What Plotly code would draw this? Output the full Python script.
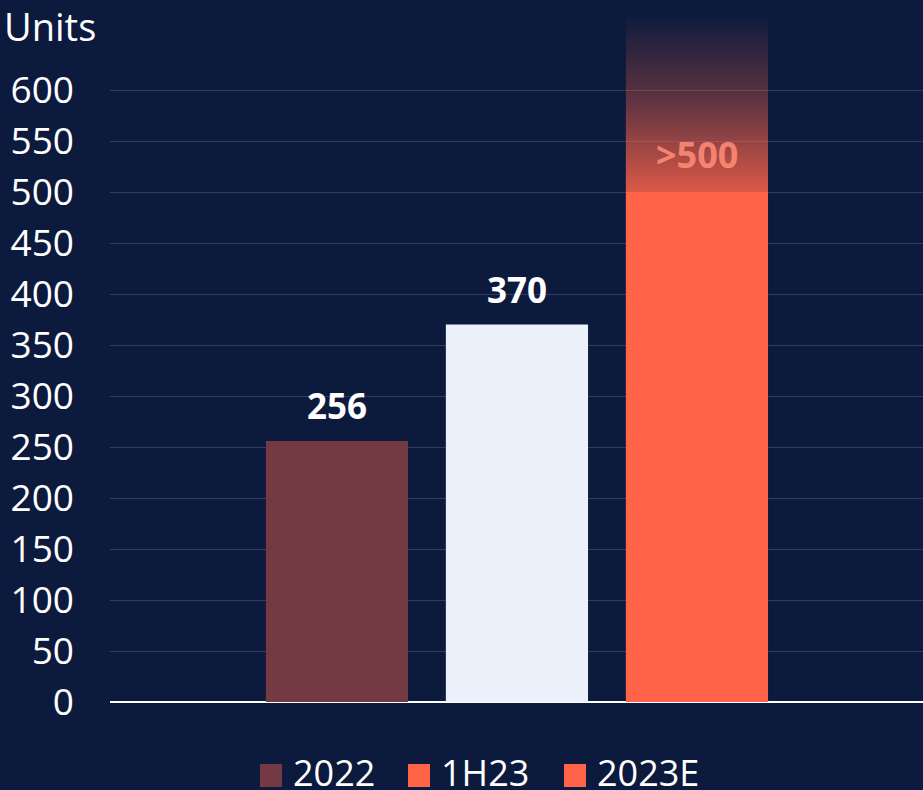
import plotly.graph_objects as go

# ---- data ----
categories = ["2022", "1H23", "2023E"]
values = [256, 370, 500]
labels = ["256", "370", ">500"]
fade_top = 675  # upper end of the faded "more than" part of 2023E
legend_colors = ["#733A44", "#FF6449", "#FF6449"]
bar_colors = ["#733A44", "#ECF0FA", "#FF6449"]
y_ticks = [0, 50, 100, 150, 200, 250, 300, 350, 400, 450, 500, 550, 600]

BG = "#0C1A3D"
W, H = 923, 790
ML, MR, MT, MB = 110, 0, 14, 88
FONT = "Open Sans"
BAR_W = 0.79

xs = list(range(len(categories)))

fig = go.Figure()
fig.add_trace(go.Bar(
    x=xs, y=values, width=BAR_W, marker=dict(color=bar_colors, line=dict(width=0)),
    showlegend=False, hoverinfo="skip",
))

# faded extension of the last bar
i = len(categories) - 1
x0, x1 = xs[i] - BAR_W / 2, xs[i] + BAR_W / 2
fig.add_trace(go.Scatter(
    x=[x0, x1, x1, x0, x0], y=[values[i], values[i], fade_top, fade_top, values[i]],
    mode="lines", line=dict(width=0), fill="toself",
    fillgradient=dict(type="vertical", start=values[i], stop=fade_top,
                      colorscale=[[0, "rgba(255,100,73,0.85)"], [0.5, "rgba(255,100,73,0.35)"],
                                  [1, "rgba(255,100,73,0.0)"]]),
    showlegend=False, hoverinfo="skip",
))

# value labels
for k, (x, v, t) in enumerate(zip(xs, values, labels)):
    if k == i:
        fig.add_annotation(x=x, y=v, text=t, showarrow=False, yanchor="bottom", yshift=11,
                           font=dict(family=FONT, size=36, color="rgba(255,140,118,0.9)", weight="bold"))
    else:
        fig.add_annotation(x=x, y=v, text=t, showarrow=False, yanchor="bottom", yshift=10,
                           font=dict(family=FONT, size=35, color="white", weight="bold"))

# axis title
fig.add_annotation(xref="paper", yref="paper", x=-(ML - 2) / (W - ML - MR), y=1 + (MT + 2) / (H - MT - MB),
                   xanchor="left", yanchor="top", text="Units", showarrow=False,
                   font=dict(family=FONT, size=38, color="white"))

# manual legend (pixel layout -> paper coords)
pw, ph = W - ML - MR, H - MT - MB
def px(x):
    return (x - ML) / pw
def py(y):
    return (H - MB - y) / ph

leg_x = [260, 408, 564]
for lx, name, col in zip(leg_x, categories, legend_colors):
    fig.add_shape(type="rect", xref="paper", yref="paper", x0=px(lx), x1=px(lx + 22),
                  y0=py(787), y1=py(764), fillcolor=col, line=dict(width=0))
    fig.add_annotation(xref="paper", yref="paper", x=px(lx + 31), y=py(772), xanchor="left",
                       yanchor="middle", text=name, showarrow=False,
                       font=dict(family=FONT, size=36, color="white"))

fig.update_layout(
    width=W, height=H, paper_bgcolor=BG, plot_bgcolor=BG,
    margin=dict(l=ML, r=MR, t=MT, b=MB),
    showlegend=False,
    font=dict(family=FONT, color="white", size=36),
    xaxis=dict(range=[-1.261, 3.256], showticklabels=False, showgrid=False, zeroline=False,
               fixedrange=True),
    yaxis=dict(range=[0, (H - MB - MT) / 1.02], tickvals=y_ticks, showgrid=True,
               gridcolor="rgba(255,255,255,0.15)", gridwidth=1,
               zeroline=True, zerolinecolor="white", zerolinewidth=2,
               ticks="", ticklabelstandoff=35, tickfont=dict(family=FONT, size=37, color="white")),
)

fig.write_html("out.html", config={"displayModeBar": False},
               post_script="document.body.style.margin='0';document.body.style.overflow='hidden';")
